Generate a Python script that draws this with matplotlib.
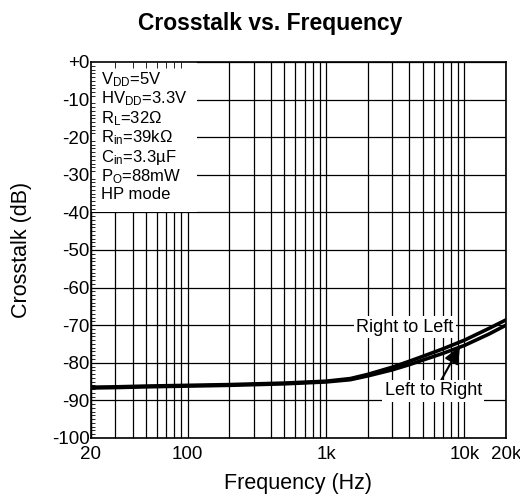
import matplotlib
matplotlib.use("Agg")
import matplotlib.pyplot as plt
from matplotlib.ticker import FixedLocator, NullFormatter, MultipleLocator

plt.rcParams['font.family'] = ['Liberation Sans', 'DejaVu Sans']

# data
freq = [20, 30, 50, 100, 200, 500, 1000, 1500, 2000, 3000, 4000, 5000, 7000, 10000, 15000, 20000]
r_to_l = [-86.5, -86.4, -86.2, -86.0, -85.8, -85.4, -84.9, -84.2, -83.1, -81.2, -79.6, -78.3, -76.3, -74.0, -70.9, -68.6]
l_to_r = [-86.7, -86.6, -86.4, -86.2, -86.0, -85.6, -85.1, -84.5, -83.5, -81.9, -80.5, -79.3, -77.5, -75.4, -72.4, -70.0]

yticks = list(range(0, -101, -10))
ylabels = ["+0"] + [str(v) for v in yticks[1:]]
xticks = [20, 100, 1000, 10000, 20000]
xlabels = ["20", "100", "1k", "10k", "20k"]

fig = plt.figure(figsize=(5.2, 4.96), dpi=100)
ax = fig.add_axes([0.175, 0.117, 0.798, 0.758])

ax.plot(freq, r_to_l, color="black", lw=2.6, zorder=3)
ax.plot(freq, l_to_r, color="black", lw=2.6, zorder=3)

ax.set_xscale("log")
ax.set_xlim(20, 20000)
ax.set_ylim(-100, 0)

minors = [m * 10 ** e for e in range(1, 5) for m in range(2, 10) if 20 <= m * 10 ** e <= 20000]
ax.xaxis.set_major_locator(FixedLocator(xticks))
ax.xaxis.set_minor_locator(FixedLocator(minors))
ax.xaxis.set_minor_formatter(NullFormatter())
ax.set_xticklabels(xlabels)
ax.set_yticks(yticks)
ax.set_yticklabels(ylabels)
ax.yaxis.set_minor_locator(MultipleLocator(1))

# grid drawn under the condition box, ticks drawn above it
for v in xticks + minors:
    ax.axvline(v, color="black", lw=0.9, zorder=1)
for v in yticks:
    ax.axhline(v, color="black", lw=0.9, zorder=1)
ax.set_axisbelow(False)

ax.tick_params(which="both", direction="in", labelsize=13.5, length=0)
ax.tick_params(axis="y", pad=1)
ax.tick_params(axis="x", pad=6)
ax.tick_params(axis="y", which="minor", length=3, left=True)
ax.tick_params(axis="x", which="minor", length=4, top=True, bottom=True)
for s in ax.spines.values():
    s.set_linewidth(1.2)

fig.text(0.519, 0.953, "Crosstalk vs. Frequency", fontsize=16.5, fontweight="bold",
         ha="center", va="center")
ax.set_xlabel("Frequency (Hz)", fontsize=15.5, labelpad=7)
ax.set_ylabel("Crosstalk (dB)", fontsize=15.5, labelpad=14)

cond = ("$\\mathregular{V_{DD}}$=5V\n$\\mathregular{HV_{DD}}$=3.3V\n$\\mathregular{R_L}$=32Ω\n"
        "$\\mathregular{R_{in}}$=39kΩ\n$\\mathregular{C_{in}}$=3.3µF\n$\\mathregular{P_O}$=88mW\nHP mode")
ax.text(23.5, -2.2, cond, fontsize=12, va="top", ha="left", linespacing=1.05,
        bbox=dict(facecolor="white", edgecolor="none", pad=7), zorder=2)

ax.text(1650, -70.5, "Right to Left", fontsize=13, ha="left", va="center",
        bbox=dict(facecolor="white", edgecolor="none", pad=1.5), zorder=4)
ax.annotate("Left to Right", xy=(9300, -75.6), xytext=(2650, -87.5), fontsize=13,
            ha="left", va="center",
            bbox=dict(facecolor="white", edgecolor="none", pad=1.5),
            arrowprops=dict(arrowstyle="-|>,head_length=0.8,head_width=0.35", color="black",
                            lw=1.5, shrinkA=0, shrinkB=0, relpos=(0.57, 1.0)),
            zorder=4)

fig.savefig("out.png", dpi=100)
